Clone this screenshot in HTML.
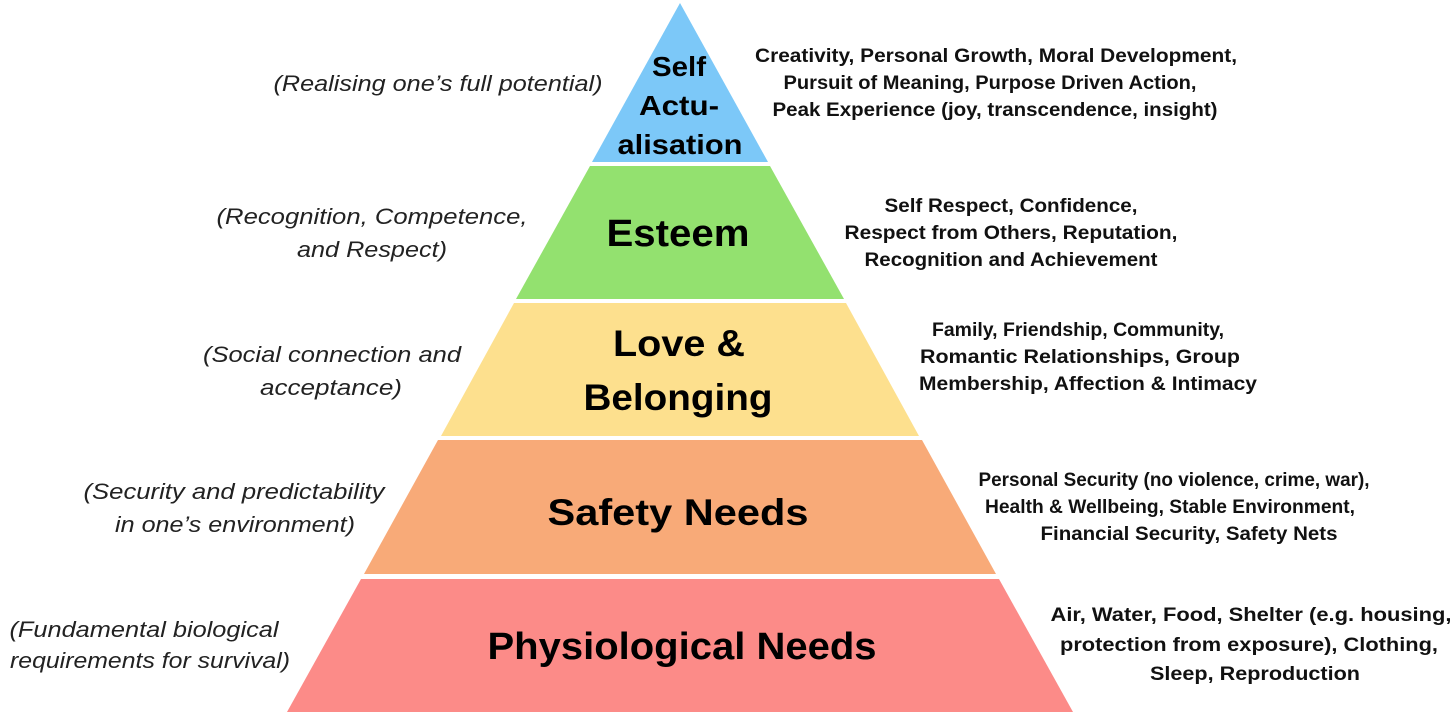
<!DOCTYPE html>
<html><head><meta charset="utf-8"><style>
html,body{margin:0;padding:0;background:#fff;}
svg{display:block;}
.l{font-family:"Liberation Sans",sans-serif;font-style:italic;font-size:22px;fill:#222;text-anchor:middle;}
.r{font-family:"Liberation Sans",sans-serif;font-weight:bold;font-size:19px;fill:#111;text-anchor:middle;}
.t{font-family:"Liberation Sans",sans-serif;font-weight:bold;fill:#000;text-anchor:middle;}
</style></head><body>
<svg width="1456" height="715" viewBox="0 0 1456 715" xmlns="http://www.w3.org/2000/svg">
<polygon points="680,3 768,162 592,162" fill="#7cc8f8"/>
<polygon points="590,166 770,166 844,299 516,299" fill="#93e16f"/>
<polygon points="514,303 846,303 919,436 441,436" fill="#fde08e"/>
<polygon points="438,440 922,440 996,574 364,574" fill="#f8aa78"/>
<polygon points="361,579 999,579 1073,712 287,712" fill="#fc8b88"/>

<g lengthAdjust="spacingAndGlyphs">
<text class="t" x="679" y="76" font-size="28" textLength="54" lengthAdjust="spacingAndGlyphs">Self</text>
<text class="t" x="679" y="115" font-size="28" textLength="80" lengthAdjust="spacingAndGlyphs">Actu-</text>
<text class="t" x="680" y="154" font-size="28" textLength="125" lengthAdjust="spacingAndGlyphs">alisation</text>
<text class="t" x="678" y="246" font-size="38" textLength="143" lengthAdjust="spacingAndGlyphs">Esteem</text>
<text class="t" x="679" y="356" font-size="37" textLength="132" lengthAdjust="spacingAndGlyphs">Love &amp;</text>
<text class="t" x="678" y="410" font-size="37" textLength="189" lengthAdjust="spacingAndGlyphs">Belonging</text>
<text class="t" x="678" y="525" font-size="37" textLength="261" lengthAdjust="spacingAndGlyphs">Safety Needs</text>
<text class="t" x="682" y="659" font-size="38" textLength="389" lengthAdjust="spacingAndGlyphs">Physiological Needs</text>

<text class="l" x="438" y="91" textLength="329" lengthAdjust="spacingAndGlyphs">(Realising one’s full potential)</text>
<text class="l" x="372" y="224" textLength="311" lengthAdjust="spacingAndGlyphs">(Recognition, Competence,</text>
<text class="l" x="372" y="257" textLength="150" lengthAdjust="spacingAndGlyphs">and Respect)</text>
<text class="l" x="332" y="362" textLength="258" lengthAdjust="spacingAndGlyphs">(Social connection and</text>
<text class="l" x="331" y="395" textLength="142" lengthAdjust="spacingAndGlyphs">acceptance)</text>
<text class="l" x="234" y="499" textLength="301" lengthAdjust="spacingAndGlyphs">(Security and predictability</text>
<text class="l" x="235" y="532" textLength="240" lengthAdjust="spacingAndGlyphs">in one’s environment)</text>
<text class="l" x="144" y="637" textLength="269" lengthAdjust="spacingAndGlyphs">(Fundamental biological</text>
<text class="l" x="150" y="668" textLength="280" lengthAdjust="spacingAndGlyphs">requirements for survival)</text>

<text class="r" x="996" y="62" textLength="482" lengthAdjust="spacingAndGlyphs">Creativity, Personal Growth, Moral Development,</text>
<text class="r" x="990" y="89" textLength="413" lengthAdjust="spacingAndGlyphs">Pursuit of Meaning, Purpose Driven Action,</text>
<text class="r" x="995" y="116" textLength="445" lengthAdjust="spacingAndGlyphs">Peak Experience (joy, transcendence, insight)</text>
<text class="r" x="1011" y="212" textLength="253" lengthAdjust="spacingAndGlyphs">Self Respect, Confidence,</text>
<text class="r" x="1011" y="239" textLength="333" lengthAdjust="spacingAndGlyphs">Respect from Others, Reputation,</text>
<text class="r" x="1011" y="266" textLength="293" lengthAdjust="spacingAndGlyphs">Recognition and Achievement</text>
<text class="r" x="1078" y="336" textLength="292" lengthAdjust="spacingAndGlyphs">Family, Friendship, Community,</text>
<text class="r" x="1080" y="363" textLength="320" lengthAdjust="spacingAndGlyphs">Romantic Relationships, Group</text>
<text class="r" x="1088" y="390" textLength="338" lengthAdjust="spacingAndGlyphs">Membership, Affection &amp; Intimacy</text>
<text class="r" x="1174" y="486" textLength="391" lengthAdjust="spacingAndGlyphs">Personal Security (no violence, crime, war),</text>
<text class="r" x="1170" y="513" textLength="370" lengthAdjust="spacingAndGlyphs">Health &amp; Wellbeing, Stable Environment,</text>
<text class="r" x="1189" y="540" textLength="297" lengthAdjust="spacingAndGlyphs">Financial Security, Safety Nets</text>
<text class="r" x="1251" y="621" textLength="401" lengthAdjust="spacingAndGlyphs">Air, Water, Food, Shelter (e.g. housing,</text>
<text class="r" x="1249" y="651" textLength="378" lengthAdjust="spacingAndGlyphs">protection from exposure), Clothing,</text>
<text class="r" x="1255" y="680" textLength="210" lengthAdjust="spacingAndGlyphs">Sleep, Reproduction</text>
</g>
</svg>
</body></html>
